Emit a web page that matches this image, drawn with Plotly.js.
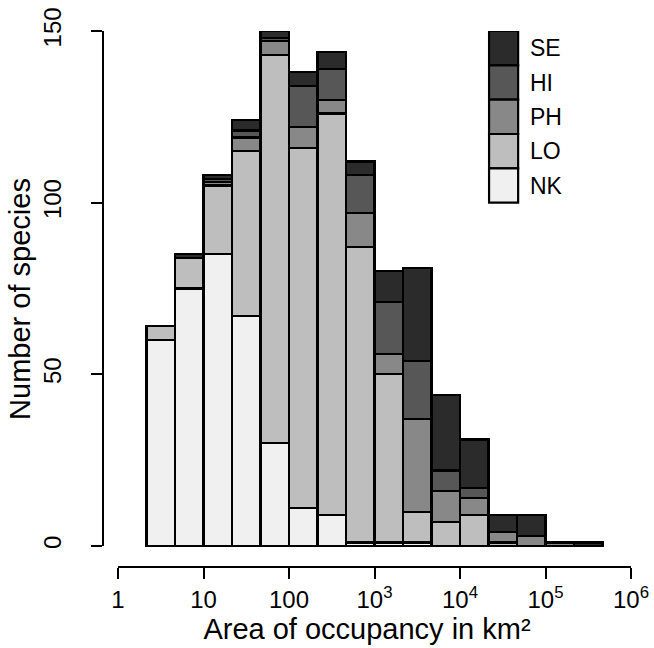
<!DOCTYPE html>
<html>
<head>
<meta charset="utf-8">
<script src="https://cdn.plot.ly/plotly-3.0.1.min.js"></script>
<style>html,body{margin:0;padding:0;background:#fff;}#chart{width:654px;height:648px;}</style>
</head>
<body>
<div id="chart"></div>
<script>
// Lower edges of the area-of-occupancy bins (km^2), bins one third of a decade wide
const binLower = [2.154, 4.642, 10, 21.54, 46.42, 100, 215.4, 464.2, 1000, 2154, 4642, 1e4, 2.154e4, 4.642e4, 1e5, 2.154e5];
const binWidthDecades = 1/3;

// Species counts per bin for each category (stacked bottom to top: NK, LO, PH, HI, SE)
const NK = [60, 75, 85, 67, 30, 11, 9, 1, 1, 1, 0, 0, 0, 0, 0, 0];
const LO = [4, 9, 20, 48, 113, 105, 117, 86, 49, 9, 7, 9, 1, 0, 0, 0];
const PH = [0, 0, 1, 4, 4, 6, 4, 10, 6, 27, 9, 5, 3, 3, 1, 0];
const HI = [0, 0, 1, 2, 1, 12, 9, 11, 15, 17, 6, 3, 0, 0, 0, 0];
const SE = [0, 1, 1, 3, 2, 4, 5, 4, 9, 27, 22, 14, 5, 6, 0, 1];

const seriesNames = ['NK', 'LO', 'PH', 'HI', 'SE'];
const seriesValues = [NK, LO, PH, HI, SE];
const seriesColors = ['#f0f0f0', '#bebebe', '#888888', '#575757', '#2b2b2b'];

const xTickVals = [0, 1, 2, 3, 4, 5, 6];
const xTickText = ['1', '10', '100', '10<sup>3</sup>', '10<sup>4</sup>', '10<sup>5</sup>', '10<sup>6</sup>'];
const yTickVals = [0, 50, 100, 150];

const FONT = 'Liberation Sans, Arial, Helvetica, sans-serif';

const centers = binLower.map(v => Math.log10(v) + binWidthDecades / 2);

const traces = seriesNames.map((name, i) => ({
  type: 'bar',
  name: name,
  x: centers,
  y: seriesValues[i].map(v => v === 0 ? null : v),
  width: binWidthDecades,
  marker: {color: seriesColors[i], line: {color: '#000', width: 2.2}},
  showlegend: false,
  hoverinfo: 'skip'
}));

// legend (boxes stacked: SE at top down to NK)
const shapes = [];
const annotations = [];
const legX0 = 4.34, legX1 = 4.68, legTop = 150, legStep = 10;
for (let k = 0; k < 5; k++) {
  const idx = 4 - k;
  const yTop = legTop - k * legStep;
  shapes.push({type: 'rect', xref: 'x', yref: 'y', x0: legX0, x1: legX1, y0: yTop - legStep, y1: yTop,
    fillcolor: seriesColors[idx], line: {color: '#000', width: 2.2}});
  annotations.push({xref: 'x', yref: 'y', x: 4.8, y: yTop - legStep / 2, text: seriesNames[idx],
    showarrow: false, xanchor: 'left', yanchor: 'middle', font: {family: FONT, size: 23, color: '#000'}});
}
// detached R-style axis lines
shapes.push({type: 'line', xref: 'x', yref: 'paper', x0: 0, x1: 6, y0: 0, y1: 0, line: {color: '#000', width: 2}});
shapes.push({type: 'line', xref: 'paper', yref: 'y', x0: 0, x1: 0, y0: 0, y1: 150, line: {color: '#000', width: 2}});

const layout = {
  width: 654, height: 648,
  margin: {l: 103, r: 23, t: 31, b: 81},
  paper_bgcolor: '#fff', plot_bgcolor: '#fff',
  barmode: 'stack', bargap: 0,
  showlegend: false,
  font: {family: FONT, color: '#000'},
  xaxis: {
    range: [-15/85.5, 6], tickmode: 'array', tickvals: xTickVals, ticktext: xTickText,
    ticks: 'outside', ticklen: 11, tickwidth: 2, tickcolor: '#000',
    showgrid: false, zeroline: false, showline: false,
    tickfont: {family: FONT, size: 24, color: '#000'},
    title: {text: 'Area of occupancy in km²', font: {family: FONT, size: 29, color: '#000'}, standoff: 4}
  },
  yaxis: {
    range: [-21/3.4333, 150], tickmode: 'array', tickvals: yTickVals,
    ticks: 'outside', ticklen: 11, tickwidth: 2, tickcolor: '#000', tickangle: -90,
    ticklabelstandoff: 20,
    showgrid: false, zeroline: false, showline: false,
    tickfont: {family: FONT, size: 24, color: '#000'},
    title: {text: 'Number of species', font: {family: FONT, size: 29, color: '#000'}, standoff: 0}
  },
  shapes: shapes,
  annotations: annotations
};

Plotly.newPlot('chart', traces, layout, {displayModeBar: false, staticPlot: true});
</script>
</body>
</html>
